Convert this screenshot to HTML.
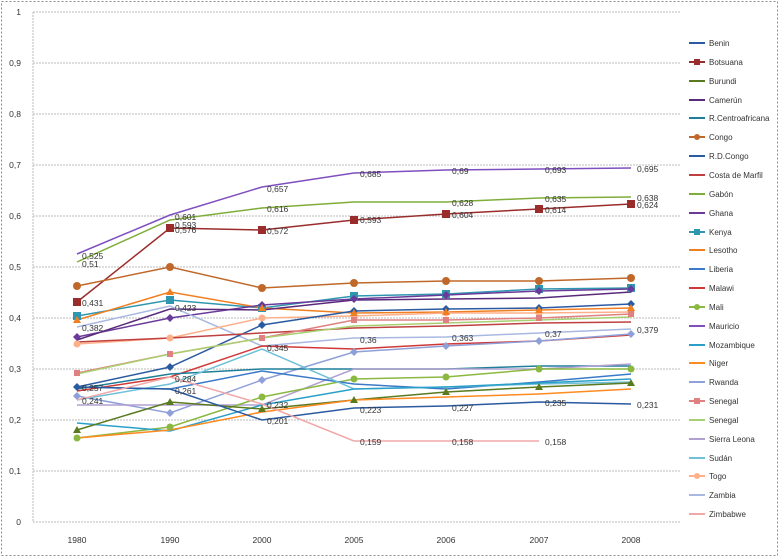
<!DOCTYPE html>
<html><head><meta charset="utf-8"><style>
html,body{margin:0;padding:0;background:#fff}
svg{display:block;font-family:"Liberation Sans",sans-serif}
</style></head><body>
<svg width="780" height="558" viewBox="0 0 780 558" xmlns="http://www.w3.org/2000/svg">
<rect x="1.5" y="1.5" width="776" height="554" fill="#fff" stroke="#888" stroke-dasharray="2,2"/>
<g stroke="#bbb" stroke-dasharray="2,1">
<line x1="33" y1="12" x2="680" y2="12"/><line x1="33" y1="63" x2="680" y2="63"/><line x1="33" y1="114" x2="680" y2="114"/><line x1="33" y1="165" x2="680" y2="165"/><line x1="33" y1="216" x2="680" y2="216"/><line x1="33" y1="267" x2="680" y2="267"/><line x1="33" y1="318" x2="680" y2="318"/><line x1="33" y1="369" x2="680" y2="369"/><line x1="33" y1="420" x2="680" y2="420"/><line x1="33" y1="471" x2="680" y2="471"/><line x1="33" y1="522" x2="680" y2="522"/>
<line x1="33" y1="12" x2="33" y2="522"/>
</g>
<g font-size="8.5" fill="#333" text-anchor="end">
<text x="21" y="15">1</text><text x="21" y="66">0,9</text><text x="21" y="117">0,8</text><text x="21" y="168">0,7</text><text x="21" y="219">0,6</text><text x="21" y="270">0,5</text><text x="21" y="321">0,4</text><text x="21" y="372">0,3</text><text x="21" y="423">0,2</text><text x="21" y="474">0,1</text><text x="21" y="525">0</text>
</g>
<g font-size="8.5" fill="#333" text-anchor="middle">
<text x="77" y="543">1980</text><text x="170" y="543">1990</text><text x="262" y="543">2000</text><text x="354" y="543">2005</text><text x="446" y="543">2006</text><text x="539" y="543">2007</text><text x="631" y="543">2008</text>
</g>
<g fill="none" stroke-width="1.5">
<polyline stroke="#7f4fc0" points="77,254 170,215 262,187 354,173 446,170 539,169 631,168"/>
<polyline stroke="#7fad3a" points="77,262 170,220 262,208 354,202 446,202 539,198 631,197"/>
<polyline stroke="#9b2c2c" points="77,302 170,228 262,230 354,220 446,214 539,209 631,204"/>
<polyline stroke="#c0682a" points="77,286 170,267 262,288 354,283 446,281 539,281 631,278"/>
<polyline stroke="#2f96b0" points="77,316 170,300 262,308 354,296 446,294 539,289 631,288"/>
<polyline stroke="#f07f20" points="77,320 170,292 262,308 354,313 446,312 539,310 631,308"/>
<polyline stroke="#6a3a9a" points="77,337 170,318 262,305 354,299 446,295 539,291 631,289"/>
<polyline stroke="#5a2a7a" points="77,340 170,309 262,310 354,300 446,299 539,298 631,292"/>
<polyline stroke="#a8b8e0" points="77,327 170,306 262,346 354,338 446,337 539,333 631,329"/>
<polyline stroke="#ffb08a" points="77,344 170,338 262,318 354,316 446,313 539,313 631,312"/>
<polyline stroke="#2a5aa0" points="77,387 170,367 262,325 354,311 446,309 539,308 631,304"/>
<polyline stroke="#c04040" points="77,342 170,338 262,333 354,328 446,326 539,323 631,322"/>
<polyline stroke="#d03838" points="77,391 170,377 262,346 354,349 446,344 539,341 631,335"/>
<polyline stroke="#e08080" points="77,373 170,354 262,338 354,320 446,320 539,318 631,314"/>
<polyline stroke="#a8d070" points="77,374 170,354 262,338 354,326 446,323 539,320 631,317"/>
<polyline stroke="#8fa0d8" points="77,396 170,413 262,380 354,352 446,346 539,341 631,334"/>
<polyline stroke="#1f7f9a" points="77,389 170,374 262,369 354,369 446,369 539,366 631,366"/>
<polyline stroke="#b0a0d0" points="77,405 170,405 262,405 354,369 446,369 539,369 631,364"/>
<polyline stroke="#8ab840" points="77,438 170,427 262,397 354,379 446,377 539,369 631,369"/>
<polyline stroke="#3a7ac8" points="77,387 170,389 262,371 354,384 446,389 539,382 631,374"/>
<polyline stroke="#70c0d8" points="77,400 170,384 262,349 354,389 446,387 539,384 631,382"/>
<polyline stroke="#2aa0c8" points="77,423 170,431 262,405 354,389 446,387 539,383 631,379"/>
<polyline stroke="#5a7a20" points="77,430 170,402 262,409 354,400 446,392 539,387 631,383"/>
<polyline stroke="#ff8a20" points="77,438 170,430 262,412 354,400 446,397 539,394 631,389"/>
<polyline stroke="#2a5aa0" points="77,387 170,389 262,420 354,408 446,406 539,402 631,404"/>
<polyline stroke="#f0a8a8" points="77,400 170,377 262,404 354,441 446,441 539,441"/>
</g>
<g fill="#9b2c2c"><rect x="73" y="298" width="8" height="8"/><rect x="166" y="224" width="8" height="8"/><rect x="258" y="226" width="8" height="8"/><rect x="350" y="216" width="8" height="8"/><rect x="442" y="210" width="8" height="8"/><rect x="535" y="205" width="8" height="8"/><rect x="627" y="200" width="8" height="8"/></g>
<g fill="#c0682a"><circle cx="77" cy="286" r="4"/><circle cx="170" cy="267" r="4"/><circle cx="262" cy="288" r="4"/><circle cx="354" cy="283" r="4"/><circle cx="446" cy="281" r="4"/><circle cx="539" cy="281" r="4"/><circle cx="631" cy="278" r="4"/></g>
<g fill="#2f96b0"><rect x="73" y="312" width="8" height="8"/><rect x="166" y="296" width="8" height="8"/><rect x="258" y="304" width="8" height="8"/><rect x="350" y="292" width="8" height="8"/><rect x="442" y="290" width="8" height="8"/><rect x="535" y="285" width="8" height="8"/><rect x="627" y="284" width="8" height="8"/></g>
<g fill="#8ab840"><circle cx="77" cy="438" r="3.5"/><circle cx="170" cy="427" r="3.5"/><circle cx="262" cy="397" r="3.5"/><circle cx="354" cy="379" r="3.5"/><circle cx="446" cy="377" r="3.5"/><circle cx="539" cy="369" r="3.5"/><circle cx="631" cy="369" r="3.5"/></g>
<g fill="#ffb08a"><circle cx="77" cy="344" r="3.5"/><circle cx="170" cy="338" r="3.5"/><circle cx="262" cy="318" r="3.5"/><circle cx="354" cy="316" r="3.5"/><circle cx="446" cy="313" r="3.5"/><circle cx="539" cy="313" r="3.5"/><circle cx="631" cy="312" r="3.5"/></g>
<g fill="#e08080"><rect x="74" y="370" width="6" height="6"/><rect x="167" y="351" width="6" height="6"/><rect x="259" y="335" width="6" height="6"/><rect x="351" y="317" width="6" height="6"/><rect x="443" y="317" width="6" height="6"/><rect x="536" y="315" width="6" height="6"/><rect x="628" y="311" width="6" height="6"/></g>
<g fill="#6a3a9a"><path d="M77,333l4,4l-4,4l-4,-4z M170,314l4,4l-4,4l-4,-4z M262,301l4,4l-4,4l-4,-4z M354,295l4,4l-4,4l-4,-4z M446,291l4,4l-4,4l-4,-4z M539,287l4,4l-4,4l-4,-4z M631,285l4,4l-4,4l-4,-4z"/></g>
<g fill="#2a5aa0"><path d="M77,383l4,4l-4,4l-4,-4z M170,363l4,4l-4,4l-4,-4z M262,321l4,4l-4,4l-4,-4z M354,307l4,4l-4,4l-4,-4z M446,305l4,4l-4,4l-4,-4z M539,304l4,4l-4,4l-4,-4z M631,300l4,4l-4,4l-4,-4z"/></g>
<g fill="#5a7a20"><path d="M77,426l4,7h-8z M170,398l4,7h-8z M262,405l4,7h-8z M354,396l4,7h-8z M446,388l4,7h-8z M539,383l4,7h-8z M631,379l4,7h-8z"/></g>
<g fill="#f07f20"><path d="M77,316l4,7h-8z M170,288l4,7h-8z M262,304l4,7h-8z M354,309l4,7h-8z M446,308l4,7h-8z M539,306l4,7h-8z M631,304l4,7h-8z"/></g>
<g fill="#8fa0d8"><path d="M77,392l4,4l-4,4l-4,-4z M170,409l4,4l-4,4l-4,-4z M262,376l4,4l-4,4l-4,-4z M354,348l4,4l-4,4l-4,-4z M446,342l4,4l-4,4l-4,-4z M539,337l4,4l-4,4l-4,-4z M631,330l4,4l-4,4l-4,-4z"/></g>
<g font-size="8.5" fill="#333">
<text x="82" y="259">0,525</text><text x="82" y="267">0,51</text><text x="82" y="306">0,431</text><text x="82" y="331">0,382</text><text x="82" y="391">0,257</text><text x="82" y="404">0,241</text>
<text x="175" y="220">0,601</text><text x="175" y="228">0,593</text><text x="175" y="233">0,576</text><text x="175" y="311">0,423</text><text x="175" y="382">0,284</text><text x="175" y="394">0,261</text>
<text x="267" y="192">0,657</text><text x="267" y="212">0,616</text><text x="267" y="234">0,572</text><text x="267" y="351">0,345</text><text x="267" y="408">0,232</text><text x="267" y="424">0,201</text>
<text x="360" y="177">0,685</text><text x="360" y="223">0,593</text><text x="360" y="343">0,36</text><text x="360" y="413">0,223</text><text x="360" y="445">0,159</text>
<text x="452" y="174">0,69</text><text x="452" y="206">0,628</text><text x="452" y="218">0,604</text><text x="452" y="341">0,363</text><text x="452" y="411">0,227</text><text x="452" y="445">0,158</text>
<text x="545" y="173">0,693</text><text x="545" y="202">0,635</text><text x="545" y="213">0,614</text><text x="545" y="337">0,37</text><text x="545" y="406">0,235</text><text x="545" y="445">0,158</text>
<text x="637" y="172">0,695</text><text x="637" y="201">0,638</text><text x="637" y="208">0,624</text><text x="637" y="333">0,379</text><text x="637" y="408">0,231</text>
</g>
<g font-size="8" fill="#333">
<line x1="689" y1="43" x2="705" y2="43" stroke="#2a5aa0" stroke-width="2"/><text x="709" y="46">Benin</text>
<line x1="689" y1="62" x2="705" y2="62" stroke="#9b2c2c" stroke-width="2"/><rect x="694" y="59" width="6" height="6" fill="#9b2c2c"/><text x="709" y="65">Botsuana</text>
<line x1="689" y1="81" x2="705" y2="81" stroke="#5a7a20" stroke-width="2"/><text x="709" y="84">Burundi</text>
<line x1="689" y1="100" x2="705" y2="100" stroke="#5a2a7a" stroke-width="2"/><text x="709" y="103">Camerún</text>
<line x1="689" y1="118" x2="705" y2="118" stroke="#1f7f9a" stroke-width="2"/><text x="709" y="121">R.Centroafricana</text>
<line x1="689" y1="137" x2="705" y2="137" stroke="#c0682a" stroke-width="2"/><circle cx="697" cy="137" r="3" fill="#c0682a"/><text x="709" y="140">Congo</text>
<line x1="689" y1="156" x2="705" y2="156" stroke="#2a5aa0" stroke-width="2"/><text x="709" y="159">R.D.Congo</text>
<line x1="689" y1="175" x2="705" y2="175" stroke="#c04040" stroke-width="2"/><text x="709" y="178">Costa de Marfil</text>
<line x1="689" y1="194" x2="705" y2="194" stroke="#7fad3a" stroke-width="2"/><text x="709" y="197">Gabón</text>
<line x1="689" y1="213" x2="705" y2="213" stroke="#6a3a9a" stroke-width="2"/><text x="709" y="216">Ghana</text>
<line x1="689" y1="232" x2="705" y2="232" stroke="#2f96b0" stroke-width="2"/><rect x="694" y="229" width="6" height="6" fill="#2f96b0"/><text x="709" y="235">Kenya</text>
<line x1="689" y1="250" x2="705" y2="250" stroke="#f07f20" stroke-width="2"/><text x="709" y="253">Lesotho</text>
<line x1="689" y1="269" x2="705" y2="269" stroke="#3a7ac8" stroke-width="2"/><text x="709" y="272">Liberia</text>
<line x1="689" y1="288" x2="705" y2="288" stroke="#d03838" stroke-width="2"/><text x="709" y="291">Malawi</text>
<line x1="689" y1="307" x2="705" y2="307" stroke="#8ab840" stroke-width="2"/><circle cx="697" cy="307" r="3" fill="#8ab840"/><text x="709" y="310">Mali</text>
<line x1="689" y1="326" x2="705" y2="326" stroke="#7f4fc0" stroke-width="2"/><text x="709" y="329">Mauricio</text>
<line x1="689" y1="345" x2="705" y2="345" stroke="#2aa0c8" stroke-width="2"/><text x="709" y="348">Mozambique</text>
<line x1="689" y1="363" x2="705" y2="363" stroke="#ff8a20" stroke-width="2"/><text x="709" y="366">Niger</text>
<line x1="689" y1="382" x2="705" y2="382" stroke="#8fa0d8" stroke-width="2"/><text x="709" y="385">Rwanda</text>
<line x1="689" y1="401" x2="705" y2="401" stroke="#e08080" stroke-width="2"/><rect x="694" y="398" width="6" height="6" fill="#e08080"/><text x="709" y="404">Senegal</text>
<line x1="689" y1="420" x2="705" y2="420" stroke="#a8d070" stroke-width="2"/><text x="709" y="423">Senegal</text>
<line x1="689" y1="439" x2="705" y2="439" stroke="#b0a0d0" stroke-width="2"/><text x="709" y="442">Sierra Leona</text>
<line x1="689" y1="458" x2="705" y2="458" stroke="#70c0d8" stroke-width="2"/><text x="709" y="461">Sudán</text>
<line x1="689" y1="476" x2="705" y2="476" stroke="#ffb08a" stroke-width="2"/><circle cx="697" cy="476" r="3" fill="#ffb08a"/><text x="709" y="479">Togo</text>
<line x1="689" y1="495" x2="705" y2="495" stroke="#a8b8e0" stroke-width="2"/><text x="709" y="498">Zambia</text>
<line x1="689" y1="514" x2="705" y2="514" stroke="#f0a8a8" stroke-width="2"/><text x="709" y="517">Zimbabwe</text>
</g>
</svg>
</body></html>
